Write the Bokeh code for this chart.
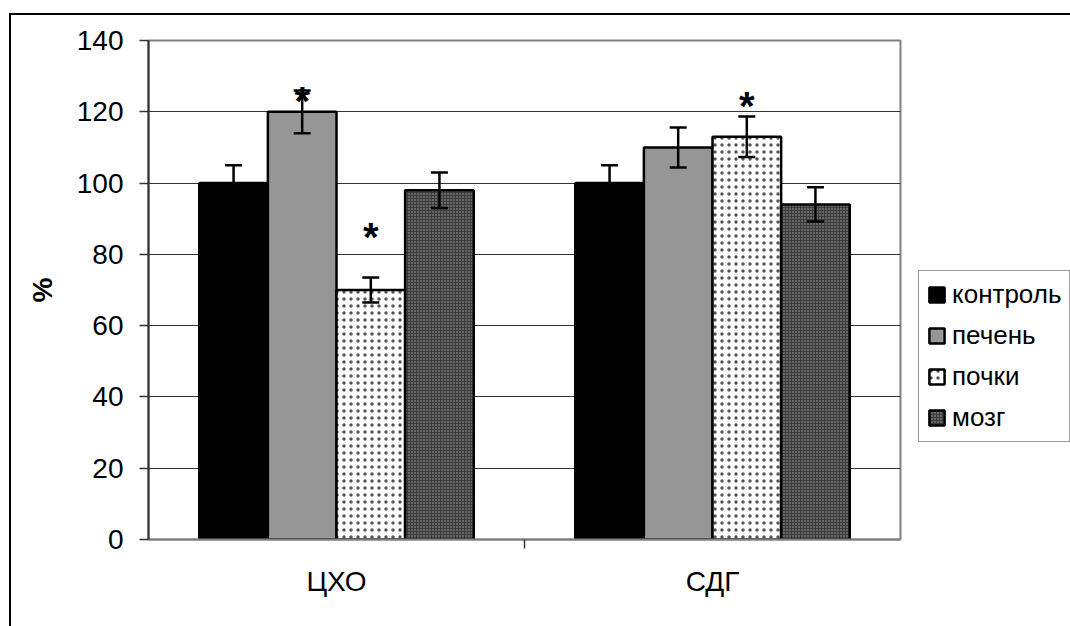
from bokeh.plotting import figure
from bokeh.models import (ColumnDataSource, FactorRange, Range1d, CategoricalAxis,
                          FixedTicker, Whisker, TeeHead, Legend, LegendItem)
from bokeh.transform import dodge
from bokeh.core.properties import value
from bokeh.embed import file_html
from bokeh.resources import INLINE

# ---- data ----
groups = ["ЦХО", "СДГ"]
series = ["контроль", "печень", "почки", "мозг"]
control = [100, 100]
control_err = [5, 5]
liver = [120, 110]
liver_err = [6, 5.6]
kidney = [70, 113]
kidney_err = [3.5, 5.7]
brain = [98, 94]
brain_err = [5, 4.8]
y_ticks = [0, 20, 40, 60, 80, 100, 120, 140]
# significance marks: (group, series index, y of mark)
star_groups = ["ЦХО", "ЦХО", "СДГ"]
star_series = [1, 2, 2]
star_y = [125.3, 87.1, 123.9]

FONT = "Liberation Sans"

p = figure(x_range=FactorRange(*groups), y_range=Range1d(0, 140),
           frame_width=752, frame_height=499,
           min_border_left=137, min_border_right=170, min_border_top=25, min_border_bottom=87,
           x_axis_location=None, output_backend="svg", toolbar_location=None,
           margin=(13, 0, 0, 9),
           styles={"border-top": "2px solid black", "border-left": "2px solid black"})
p.background_fill_color = "white"
p.border_fill_color = "white"
p.outline_line_color = "#808080"
p.outline_line_width = 2
p.xgrid.grid_line_color = None

bw = 0.1825
offsets = [-1.5 * bw, -0.5 * bw, 0.5 * bw, 1.5 * bw]
vals = [control, liver, kidney, brain]
errs = [control_err, liver_err, kidney_err, brain_err]
styles = [
    dict(fill_color="black"),
    dict(fill_color="#969696"),
    dict(fill_color="white", hatch_pattern="dot", hatch_color="#555555", hatch_scale=7, hatch_weight=0.6),
    dict(fill_color="#3c3c3c", hatch_pattern="dot", hatch_color="#a8a8a8", hatch_scale=3, hatch_weight=0.8),
]

renderers = []
for i, name in enumerate(series):
    src = ColumnDataSource(dict(cat=groups, val=vals[i],
                                upper=[v + e for v, e in zip(vals[i], errs[i])],
                                lower=[v - e for v, e in zip(vals[i], errs[i])]))
    r = p.vbar(x=dodge("cat", offsets[i], range=p.x_range), top="val", width=bw, source=src,
               line_color="black", line_width=2.5, **styles[i])
    renderers.append(r)
    w = Whisker(source=src, base=dodge("cat", offsets[i], range=p.x_range), upper="upper", lower="lower",
                line_color="black", line_width=2.5, level="annotation",
                upper_head=TeeHead(size=17, line_width=2.5, line_color="black"),
                lower_head=TeeHead(size=17, line_width=2.5, line_color="black"))
    p.add_layout(w)

# stars
for g, si, yv in zip(star_groups, star_series, star_y):
    s = ColumnDataSource(dict(cat=[g], y=[yv], t=["*"]))
    p.text(x=dodge("cat", offsets[si], range=p.x_range), y="y", text="t", source=s,
           text_align="center", text_baseline="middle", y_offset=8,
           text_font=value(FONT), text_font_size="40px", text_font_style="bold", text_color="black")

# y axis
p.yaxis.ticker = FixedTicker(ticks=y_ticks)
p.yaxis.minor_tick_line_color = None
p.yaxis.major_tick_out = 9
p.yaxis.major_tick_in = 0
p.yaxis.major_tick_line_color = "#333333"
p.yaxis.major_tick_line_width = 1.5
p.yaxis.axis_line_color = "#333333"
p.yaxis.axis_line_width = 2
p.yaxis.major_label_text_font = FONT
p.yaxis.major_label_text_font_size = "28px"
p.yaxis.major_label_text_color = "black"
p.yaxis.major_label_standoff = 16
p.yaxis.axis_label = "%"
p.yaxis.axis_label_text_font = FONT
p.yaxis.axis_label_text_font_size = "28px"
p.yaxis.axis_label_text_font_style = "bold"
p.yaxis.axis_label_text_color = "black"
p.yaxis.axis_label_standoff = 16
p.ygrid.ticker = FixedTicker(ticks=y_ticks)
p.ygrid.grid_line_color = "#333333"
p.ygrid.grid_line_width = 1

# x axes: tick marks at category boundaries (a helper factor range whose factor
# centres fall on the group boundaries), then the category labels
bounds = ["b%d" % k for k in range(len(groups) + 1)]
p.extra_x_ranges = {"bnd": FactorRange(*bounds, range_padding=-1, range_padding_units="absolute")}
tick_axis = CategoricalAxis(x_range_name="bnd",
                            major_tick_out=9, major_tick_in=0, major_tick_line_color="#333333",
                            major_tick_line_width=1.5,
                            major_label_text_font_size="1px", major_label_text_color=None,
                            major_label_standoff=0, axis_line_color="#808080", axis_line_width=2)
p.add_layout(tick_axis, "below")
cat_axis = CategoricalAxis(axis_line_color=None, major_tick_line_color=None,
                           major_label_text_font=FONT, major_label_text_font_size="28px",
                           major_label_text_color="black", major_label_standoff=11)
p.add_layout(cat_axis, "below")

legend = Legend(items=[LegendItem(label=n, renderers=[r]) for n, r in zip(series, renderers)],
                location=(18, 97), glyph_width=19, glyph_height=19, label_standoff=6,
                label_text_font=FONT, label_text_font_size="26px", label_text_color="black",
                spacing=10, padding=8, margin=0, border_line_color="#333333", border_line_width=1.5,
                background_fill_color="white", background_fill_alpha=1)
p.add_layout(legend, "right")

open("out.html", "w").write(file_html(p, INLINE))
